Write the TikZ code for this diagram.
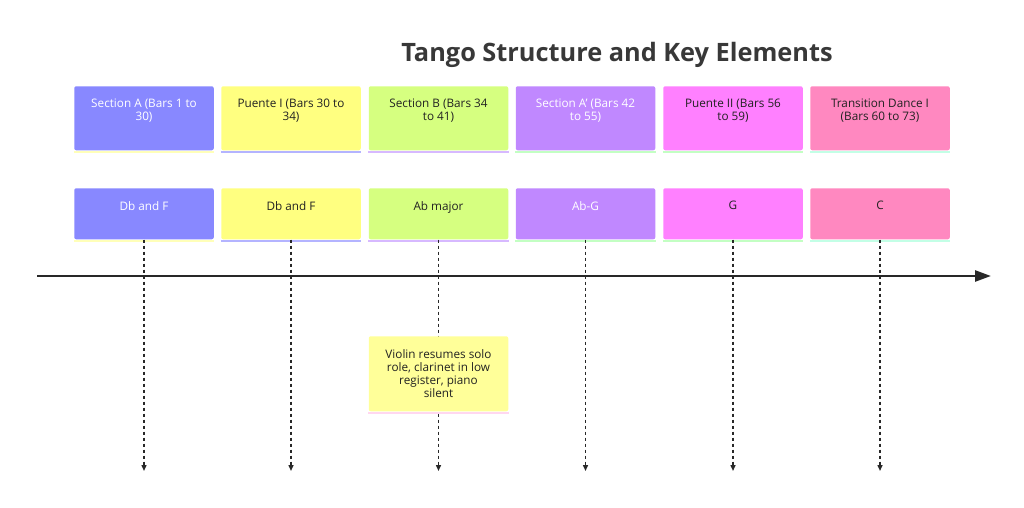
\documentclass[tikz,border=0pt]{standalone}
\usepackage{fontspec}
\setmainfont{Open Sans}
\usetikzlibrary{arrows.meta}

\newlength{\du}
\setlength{\du}{0.75pt}

\definecolor{cardblue}{RGB}{136,136,255}
\definecolor{cardyellow}{RGB}{255,255,128}
\definecolor{cardgreen}{RGB}{214,255,128}
\definecolor{cardpurple}{RGB}{192,136,255}
\definecolor{cardmagenta}{RGB}{255,128,255}
\definecolor{cardpink}{RGB}{255,136,192}
\definecolor{notecolor}{RGB}{255,255,153}
\definecolor{edgeyellow}{RGB}{255,255,185}
\definecolor{edgeblue}{RGB}{180,180,255}
\definecolor{edgepurple}{RGB}{215,185,255}
\definecolor{edgegreen}{RGB}{195,255,195}
\definecolor{edgecyan}{RGB}{195,255,230}
\definecolor{edgepink}{RGB}{255,215,240}
\definecolor{inkcolor}{RGB}{34,34,34}
\definecolor{strokecolor}{RGB}{40,40,40}

\newcommand{\cardtext}[2]{\parbox[c][#1\du][t]{108.5\du}{\centering\vspace*{13\du}#2\par}}

\tikzset{
  card/.style={fill=#1, rounded corners=2\du, anchor=north, inner xsep=15.5\du, inner ysep=0pt,
    text=inkcolor, font=\fontsize{8.8}{9.75}\selectfont},
  lighttext/.style={text=white},
  edgestrip/.style={draw=#1, line width=2\du},
  dropline/.style={draw=strokecolor, line width=1.05pt, dash pattern=on 2.25pt off 2.25pt, -{Triangle[length=4.5pt, width=3.75pt]}},
  timeline/.style={draw=strokecolor, line width=1.95pt, -{Triangle[length=12pt, width=8.25pt]}},
}

\begin{document}
\begin{tikzpicture}[x=\du, y=-\du]
\useasboundingbox (0,0) rectangle (1024,507);
\fill[white] (0,0) rectangle (1024,507);

% title
\node[text=inkcolor!90!white, font=\bfseries\fontsize{19}{22}\selectfont] (title) at (617,55) {Tango Structure and Key Elements};

% sections
\node[card=cardblue, lighttext] (secA) at (144,86) {\cardtext{64}{Section A (Bars 1 to 30)}};
\node[card=cardyellow] (secPI) at (291,86) {\cardtext{64}{Puente I (Bars 30 to 34)}};
\node[card=cardgreen] (secB) at (438.5,86) {\cardtext{64}{Section B (Bars 34 to 41)}};
\node[card=cardpurple, lighttext] (secAp) at (585.5,86) {\cardtext{64}{Section A' (Bars 42 to 55)}};
\node[card=cardmagenta] (secPII) at (733,86) {\cardtext{64}{Puente II (Bars 56 to 59)}};
\node[card=cardpink] (secT) at (880,86) {\cardtext{64}{Transition Dance I (Bars 60 to 73)}};

\draw[edgestrip=edgeyellow] ([yshift=-1\du]secA.south west) -- ([yshift=-1\du]secA.south east);
\draw[edgestrip=edgeblue] ([yshift=-1\du]secPI.south west) -- ([yshift=-1\du]secPI.south east);
\draw[edgestrip=edgepurple] ([yshift=-1\du]secB.south west) -- ([yshift=-1\du]secB.south east);
\draw[edgestrip=edgegreen] ([yshift=-1\du]secAp.south west) -- ([yshift=-1\du]secAp.south east);
\draw[edgestrip=edgegreen] ([yshift=-1\du]secPII.south west) -- ([yshift=-1\du]secPII.south east);
\draw[edgestrip=edgecyan] ([yshift=-1\du]secT.south west) -- ([yshift=-1\du]secT.south east);

% keys
\node[card=cardblue, lighttext] (keyA) at (144,188) {\cardtext{51}{Db and F}};
\node[card=cardyellow] (keyPI) at (291,188) {\cardtext{51}{Db and F}};
\node[card=cardgreen] (keyB) at (438.5,188) {\cardtext{51}{Ab major}};
\node[card=cardpurple, lighttext] (keyAp) at (585.5,188) {\cardtext{51}{Ab-G}};
\node[card=cardmagenta] (keyPII) at (733,188) {\cardtext{51}{G}};
\node[card=cardpink] (keyT) at (880,188) {\cardtext{51}{C}};

\draw[edgestrip=edgeyellow] ([yshift=-1\du]keyA.south west) -- ([yshift=-1\du]keyA.south east);
\draw[edgestrip=edgeblue] ([yshift=-1\du]keyPI.south west) -- ([yshift=-1\du]keyPI.south east);
\draw[edgestrip=edgepurple] ([yshift=-1\du]keyB.south west) -- ([yshift=-1\du]keyB.south east);
\draw[edgestrip=edgegreen] ([yshift=-1\du]keyAp.south west) -- ([yshift=-1\du]keyAp.south east);
\draw[edgestrip=edgegreen] ([yshift=-1\du]keyPII.south west) -- ([yshift=-1\du]keyPII.south east);
\draw[edgestrip=edgecyan] ([yshift=-1\du]keyT.south west) -- ([yshift=-1\du]keyT.south east);

% time axis
\coordinate (axisL) at (37,276);
\coordinate (axisR) at (991,276);
\draw[timeline] (axisL) -- (axisR);

% drop lines
\coordinate (endA) at (144,471);
\coordinate (endPI) at (291,471);
\coordinate (endB) at (438.5,471);
\coordinate (endAp) at (585.5,471);
\coordinate (endPII) at (733,471);
\coordinate (endT) at (880,471);
\draw[dropline] (keyA.south) -- (endA);
\draw[dropline] (keyPI.south) -- (endPI);
\draw[dropline] (keyB.south) -- (endB);
\draw[dropline] (keyAp.south) -- (endAp);
\draw[dropline] (keyPII.south) -- (endPII);
\draw[dropline] (keyT.south) -- (endT);

% note
\node[card=notecolor] (note) at (438.5,336) {\cardtext{75}{Violin resumes solo role, clarinet in low register, piano silent}};
\draw[edgestrip=edgepink] ([yshift=-1\du]note.south west) -- ([yshift=-1\du]note.south east);
\end{tikzpicture}
\end{document}
